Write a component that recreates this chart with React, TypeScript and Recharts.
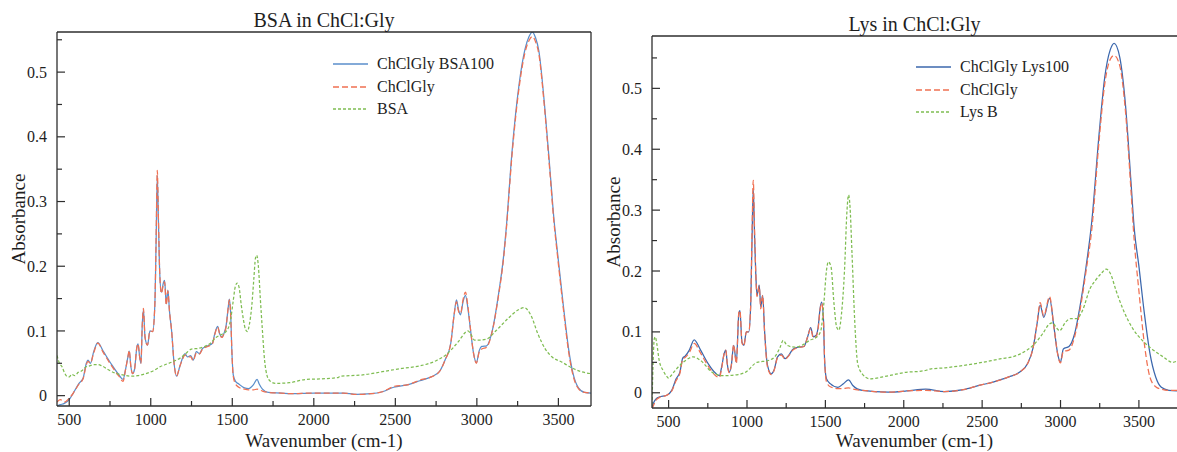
import React from 'react';
import { LineChart, Line, XAxis, YAxis, Legend, Label } from 'recharts';

const FONT = '"Liberation Serif", "Times New Roman", serif';
const AXIS = '#2e2e2e';
const TEXT = '#1e1e1e';

// ---------- shared ticks ----------
const xTicks = [500, 750, 1000, 1250, 1500, 1750, 2000, 2250, 2500, 2750, 3000, 3250, 3500];
const yTicks = [0, 0.05, 0.1, 0.15, 0.2, 0.25, 0.3, 0.35, 0.4, 0.45, 0.5, 0.55];

// ---------- BSA in ChCl:Gly ----------
const bsaWavenumbers = [
  425, 445, 470, 500, 525, 560, 585, 605, 615, 630,
  650, 675, 710, 760, 805, 830, 845, 860, 868, 878,
  888, 900, 915, 922, 932, 940, 948, 955, 965, 980,
  995, 1012, 1025, 1033, 1040, 1047, 1055, 1065, 1078, 1085,
  1095, 1105, 1115, 1128, 1143, 1158, 1178, 1198, 1210, 1225,
  1245, 1260, 1280, 1298, 1318, 1350, 1378, 1392, 1410, 1425,
  1437, 1450, 1462, 1475, 1482, 1490, 1498, 1506, 1520, 1540,
  1575, 1600, 1630, 1652, 1665, 1685, 1720, 1800, 1860, 2000,
  2100, 2180, 2260, 2350, 2420, 2490, 2580, 2650, 2720, 2770,
  2805, 2840, 2862, 2875, 2888, 2900, 2915, 2930, 2945, 2960,
  2980, 2997, 3015, 3030, 3060, 3095, 3130, 3165, 3180, 3215,
  3260, 3295, 3320, 3340, 3360, 3380, 3413, 3448, 3472, 3495,
  3530, 3565, 3590, 3623, 3660, 3700,
];
const bsaSampleAbs = [
  -0.016, -0.014, -0.012, -0.006, 0.004, 0.019, 0.027, 0.05, 0.055, 0.05,
  0.068, 0.082, 0.068, 0.048, 0.032, 0.025, 0.04, 0.06, 0.069, 0.045,
  0.034, 0.04, 0.075, 0.08, 0.06, 0.05, 0.11, 0.133, 0.09, 0.078,
  0.1, 0.099, 0.14, 0.24, 0.34, 0.27, 0.19, 0.16, 0.175, 0.178,
  0.142, 0.163, 0.13, 0.1, 0.05, 0.03, 0.045, 0.06, 0.065, 0.06,
  0.062, 0.055, 0.068, 0.065, 0.073, 0.077, 0.081, 0.095, 0.107, 0.094,
  0.091, 0.097, 0.108, 0.136, 0.149, 0.127, 0.065, 0.032, 0.022, 0.018,
  0.012, 0.011, 0.017, 0.025, 0.018, 0.01, 0.005, 0.004, 0.003, 0.004,
  0.004, 0.004, 0.002, 0.003, 0.006, 0.013, 0.017, 0.023, 0.029, 0.037,
  0.055, 0.081, 0.128, 0.148, 0.132, 0.125, 0.145, 0.155, 0.135, 0.104,
  0.065, 0.051, 0.07, 0.076, 0.077, 0.101, 0.152, 0.218, 0.258, 0.375,
  0.483, 0.535, 0.555, 0.562, 0.553, 0.533, 0.455, 0.35, 0.275, 0.22,
  0.14, 0.068, 0.034, 0.012, 0.005, 0.004,
];
const bsaSolventAbs = [
  -0.01, -0.006, -0.01, -0.004, 0.004, 0.018, 0.026, 0.048, 0.053, 0.05,
  0.066, 0.081, 0.066, 0.046, 0.03, 0.022, 0.04, 0.06, 0.07, 0.045,
  0.034, 0.04, 0.075, 0.08, 0.06, 0.05, 0.11, 0.135, 0.09, 0.078,
  0.1, 0.099, 0.14, 0.245, 0.348, 0.275, 0.19, 0.158, 0.172, 0.176,
  0.14, 0.162, 0.13, 0.1, 0.05, 0.03, 0.045, 0.058, 0.063, 0.06,
  0.06, 0.054, 0.066, 0.064, 0.072, 0.076, 0.08, 0.094, 0.106, 0.093,
  0.09, 0.096, 0.106, 0.136, 0.148, 0.125, 0.065, 0.03, 0.018, 0.013,
  0.01, 0.009, 0.009, 0.01, 0.009, 0.007, 0.005, 0.004, 0.003, 0.004,
  0.004, 0.004, 0.002, 0.003, 0.006, 0.014, 0.017, 0.024, 0.029, 0.037,
  0.055, 0.081, 0.128, 0.145, 0.13, 0.127, 0.148, 0.16, 0.138, 0.105,
  0.065, 0.05, 0.068, 0.072, 0.075, 0.1, 0.15, 0.215, 0.255, 0.37,
  0.478, 0.53, 0.549, 0.555, 0.547, 0.528, 0.45, 0.345, 0.27, 0.215,
  0.135, 0.064, 0.031, 0.011, 0.005, 0.004,
];
const bsaProteinWavenumbers = [
  425, 440, 455, 470, 485, 500, 515, 535, 555, 575,
  600, 625, 650, 675, 700, 740, 780, 830, 875, 920,
  970, 1020, 1060, 1100, 1140, 1180, 1210, 1250, 1290, 1330,
  1370, 1400, 1430, 1465, 1490, 1505, 1518, 1530, 1542, 1555,
  1568, 1580, 1592, 1605, 1620, 1632, 1642, 1650, 1660, 1672,
  1685, 1698, 1712, 1730, 1765, 1850, 1950, 2050, 2150, 2160,
  2300, 2420, 2540, 2650, 2750, 2820, 2885, 2945, 2965, 2985,
  3030, 3065, 3120, 3190, 3250, 3290, 3330, 3375, 3420, 3460,
  3520, 3590, 3640, 3700,
];
const bsaProteinAbs = [
  0.062, 0.05, 0.045, 0.036, 0.03, 0.029, 0.033, 0.031, 0.036, 0.038,
  0.044, 0.046, 0.048, 0.048, 0.046, 0.04, 0.035, 0.032, 0.03, 0.031,
  0.034, 0.039, 0.045, 0.049, 0.053, 0.058, 0.064, 0.072, 0.073, 0.076,
  0.082, 0.09, 0.094, 0.1, 0.118, 0.145, 0.168, 0.174, 0.167, 0.14,
  0.118, 0.103, 0.099, 0.11, 0.14, 0.18, 0.212, 0.217, 0.2, 0.15,
  0.1, 0.055, 0.032, 0.023, 0.019, 0.02, 0.025, 0.026, 0.028, 0.03,
  0.032, 0.037, 0.042, 0.046, 0.054, 0.065, 0.083, 0.1, 0.094, 0.086,
  0.086, 0.088, 0.101, 0.119, 0.132, 0.136, 0.125, 0.095, 0.072, 0.06,
  0.052, 0.042, 0.037, 0.034,
];

// ---------- Lys in ChCl:Gly ----------
const lysWavenumbers = [
  394, 405, 420, 440, 488, 520, 548, 572, 590, 605,
  632, 663, 704, 752, 800, 824, 838, 855, 865, 874,
  886, 900, 915, 932, 948, 955, 968, 980, 996, 1011,
  1023, 1032, 1040, 1048, 1056, 1064, 1078, 1088, 1100, 1112,
  1131, 1155, 1172, 1195, 1219, 1243, 1267, 1291, 1327, 1363,
  1387, 1406, 1423, 1440, 1454, 1466, 1476, 1488, 1495, 1507,
  1531, 1580, 1615, 1648, 1675, 1735, 1900, 2020, 2140, 2260,
  2380, 2480, 2575, 2670, 2740, 2790, 2826, 2850, 2870, 2893,
  2930, 2958, 2982, 2999, 3018, 3054, 3090, 3127, 3163, 3200,
  3246, 3282, 3318, 3342, 3378, 3414, 3450, 3470, 3499, 3535,
  3571, 3607, 3643, 3691, 3743,
];
const lysSampleAbs = [
  -0.026, -0.016, -0.01, -0.007, -0.004, 0.004, 0.023, 0.034, 0.057, 0.06,
  0.07, 0.087, 0.07, 0.048, 0.032, 0.028, 0.042, 0.065, 0.07, 0.048,
  0.034, 0.045, 0.078, 0.05, 0.13, 0.135, 0.083, 0.078, 0.1, 0.1,
  0.14, 0.25, 0.335, 0.26, 0.196, 0.16, 0.177, 0.141, 0.16, 0.102,
  0.045, 0.031, 0.037, 0.059, 0.064, 0.056, 0.062, 0.071, 0.075, 0.076,
  0.092, 0.107, 0.092, 0.094, 0.108, 0.138, 0.149, 0.119, 0.053, 0.023,
  0.015, 0.009, 0.015, 0.021, 0.012, 0.004, 0.001, 0.003, 0.006, 0.002,
  0.005, 0.012, 0.018, 0.026, 0.034, 0.048, 0.075, 0.113, 0.144, 0.124,
  0.155, 0.108, 0.064, 0.05, 0.072, 0.076, 0.097, 0.146, 0.207, 0.283,
  0.425, 0.518, 0.564, 0.574, 0.551, 0.474, 0.344, 0.27, 0.21, 0.13,
  0.064, 0.026, 0.009, 0.004, 0.003,
];
const lysSolventAbs = [
  -0.026, -0.02, -0.012, -0.008, -0.004, 0.003, 0.02, 0.032, 0.055, 0.058,
  0.066, 0.081, 0.065, 0.044, 0.028, 0.025, 0.04, 0.065, 0.07, 0.048,
  0.033, 0.045, 0.079, 0.048, 0.132, 0.135, 0.082, 0.077, 0.1, 0.1,
  0.14, 0.26, 0.349, 0.27, 0.196, 0.158, 0.175, 0.138, 0.16, 0.1,
  0.042, 0.03, 0.036, 0.058, 0.062, 0.055, 0.061, 0.07, 0.074, 0.076,
  0.092, 0.106, 0.09, 0.092, 0.106, 0.136, 0.147, 0.118, 0.055, 0.018,
  0.01, 0.007, 0.007, 0.008, 0.006, 0.004, 0.001, 0.003, 0.004, 0.002,
  0.005, 0.012, 0.018, 0.026, 0.034, 0.048, 0.075, 0.113, 0.148, 0.126,
  0.158, 0.108, 0.063, 0.049, 0.068, 0.07, 0.092, 0.14, 0.2, 0.27,
  0.414, 0.507, 0.548, 0.554, 0.537, 0.463, 0.33, 0.25, 0.17, 0.08,
  0.025, 0.01, 0.006, 0.004, 0.004,
];
const lysProteinWavenumbers = [
  394, 400, 408, 415, 425, 440, 464, 488, 500, 515,
  540, 560, 608, 656, 704, 776, 848, 944, 992, 1064,
  1136, 1183, 1210, 1231, 1255, 1303, 1351, 1399, 1447, 1471,
  1490, 1507, 1519, 1536, 1555, 1572, 1586, 1603, 1622, 1638,
  1648, 1656, 1670, 1687, 1706, 1735, 1783, 1903, 2023, 2095,
  2143, 2167, 2263, 2383, 2502, 2622, 2694, 2766, 2826, 2886,
  2929, 2950, 2970, 2994, 3032, 3068, 3104, 3140, 3188, 3224,
  3260, 3291, 3318, 3354, 3402, 3462, 3522, 3583, 3655, 3715,
  3743,
];
const lysProteinAbs = [
  -0.02, 0.04, 0.088, 0.092, 0.08, 0.053, 0.037, 0.027, 0.024, 0.028,
  0.036, 0.042, 0.053, 0.059, 0.053, 0.034, 0.028, 0.03, 0.034, 0.05,
  0.053, 0.061, 0.074, 0.086, 0.078, 0.075, 0.078, 0.086, 0.092, 0.102,
  0.146, 0.201, 0.215, 0.207, 0.146, 0.108, 0.103, 0.13, 0.201, 0.3,
  0.325, 0.31, 0.228, 0.119, 0.048, 0.031, 0.023, 0.028, 0.034, 0.035,
  0.037, 0.039, 0.041, 0.045, 0.05, 0.056, 0.059, 0.067, 0.078, 0.097,
  0.113, 0.115, 0.108, 0.102, 0.116, 0.122, 0.122, 0.135, 0.171, 0.185,
  0.196, 0.203, 0.196, 0.168, 0.135, 0.105, 0.086, 0.072, 0.059, 0.05,
  0.052,
];

type Series = { name: string; xs: number[]; ys: number[]; color: string; dash?: string };

const toPoints = (xs: number[], ys: number[]) => xs.map((w, i) => ({ w, a: ys[i] }));

const XTick = (props: any) => {
  const { x, y, payload } = props;
  const v = Math.round(payload.value);
  const major = v % 500 === 0;
  return (
    <g>
      <line x1={x} y1={y} x2={x} y2={y - (major ? 8 : 5)} stroke={AXIS} strokeWidth={1.2} />
      {major && (
        <text x={x} y={y + 19} textAnchor="middle" style={{ fontFamily: FONT }} fontSize={16} fill={TEXT}>
          {v}
        </text>
      )}
    </g>
  );
};

const YTick = (props: any) => {
  const { x, y, payload } = props;
  const v = payload.value as number;
  const major = Math.round(v * 100) % 10 === 0;
  return (
    <g>
      <line x1={x} y1={y} x2={x + (major ? 8 : 5)} y2={y} stroke={AXIS} strokeWidth={1.2} />
      {major && (
        <text x={x - 10} y={y} dy="0.35em" textAnchor="end" style={{ fontFamily: FONT }} fontSize={16} fill={TEXT}>
          {v === 0 ? '0' : v.toFixed(1)}
        </text>
      )}
    </g>
  );
};

const makeLegend = (series: Series[]) => () => (
  <div style={{ fontFamily: FONT, fontSize: 16, color: TEXT }}>
    {series.map((s) => (
      <div key={s.name} style={{ display: 'flex', alignItems: 'center', height: 22.5, whiteSpace: 'nowrap' }}>
        <svg width={35} height={8} style={{ display: 'block' }}>
          <line x1={0} y1={4} x2={35} y2={4} stroke={s.color} strokeWidth={1.3} strokeDasharray={s.dash} />
        </svg>
        <span style={{ marginLeft: 9 }}>{s.name}</span>
      </div>
    ))}
  </div>
);

type ChartProps = {
  title: string;
  series: Series[];
  width: number;
  margin: { top: number; right: number; bottom: number; left: number };
  bottomHeight: number;
  titleBaselineGap: number;
  xTitleOffset: number;
  xDomain: [number, number];
  yDomain: [number, number];
  legendLeft: number;
  legendTop: number;
  rightBorder: boolean;
};

const axisLine = { stroke: AXIS, strokeWidth: 1.3 };

function SpectrumChart(p: ChartProps) {
  return (
    <LineChart width={p.width} height={452} margin={p.margin}>
      <XAxis
        type="number"
        dataKey="w"
        domain={p.xDomain}
        allowDataOverflow
        ticks={xTicks}
        interval={0}
        tickSize={0}
        tickMargin={0}
        tickLine={false}
        tick={<XTick />}
        axisLine={axisLine}
        height={p.bottomHeight}
      >
        <Label
          value="Wavenumber (cm-1)"
          position="insideBottom"
          offset={p.xTitleOffset}
          style={{ fontFamily: FONT }}
          fontSize={19}
          fill={TEXT}
        />
      </XAxis>
      <XAxis
        xAxisId="top"
        orientation="top"
        type="number"
        domain={p.xDomain}
        allowDataOverflow
        height={1}
        tick={false}
        tickLine={false}
        axisLine={axisLine}
      >
        <Label
          value={p.title}
          position="top"
          offset={p.titleBaselineGap}
          style={{ fontFamily: FONT }}
          fontSize={20}
          fill={TEXT}
        />
      </XAxis>
      <YAxis
        type="number"
        domain={p.yDomain}
        allowDataOverflow
        ticks={yTicks}
        interval={0}
        tickSize={0}
        tickMargin={0}
        tickLine={false}
        tick={<YTick />}
        axisLine={axisLine}
        width={57}
      >
        <Label
          value="Absorbance"
          angle={-90}
          position="insideLeft"
          offset={18}
          fontSize={19}
          fill={TEXT}
          style={{ textAnchor: 'middle', fontFamily: FONT }}
        />
      </YAxis>
      {p.rightBorder && (
        <YAxis
          yAxisId="right"
          orientation="right"
          type="number"
          domain={p.yDomain}
          allowDataOverflow
          width={1}
          tick={false}
          tickLine={false}
          axisLine={axisLine}
        />
      )}
      {p.series.map((s) => (
        <Line
          key={s.name}
          data={toPoints(s.xs, s.ys)}
          dataKey="a"
          name={s.name}
          type="monotone"
          stroke={s.color}
          strokeWidth={1.25}
          strokeDasharray={s.dash}
          dot={false}
          activeDot={false}
          isAnimationActive={false}
        />
      ))}
      <Legend
        layout="vertical"
        align="center"
        verticalAlign="middle"
        content={makeLegend(p.series)}
        wrapperStyle={{ left: p.legendLeft, top: p.legendTop, width: 'auto', height: 'auto' }}
      />
    </LineChart>
  );
}

const RED = '#f07052';
const GREEN = '#7fbd52';

const bsaSeries: Series[] = [
  { name: 'ChClGly BSA100', xs: bsaWavenumbers, ys: bsaSampleAbs, color: '#5a8ecb' },
  { name: 'ChClGly', xs: bsaWavenumbers, ys: bsaSolventAbs, color: RED, dash: '6 3' },
  { name: 'BSA', xs: bsaProteinWavenumbers, ys: bsaProteinAbs, color: GREEN, dash: '3 2' },
];

const lysSeries: Series[] = [
  { name: 'ChClGly Lys100', xs: lysWavenumbers, ys: lysSampleAbs, color: '#3b67ad' },
  { name: 'ChClGly', xs: lysWavenumbers, ys: lysSolventAbs, color: RED, dash: '6 3' },
  { name: 'Lys B', xs: lysProteinWavenumbers, ys: lysProteinAbs, color: GREEN, dash: '3 2' },
];

export default function App() {
  return (
    <div
      style={{
        position: 'absolute',
        left: 0,
        top: 0,
        width: 1177,
        height: 452,
        overflow: 'hidden',
        background: '#ffffff',
      }}
    >
      <div style={{ position: 'absolute', left: 0, top: 0 }}>
        <SpectrumChart
          title="BSA in ChCl:Gly"
          series={bsaSeries}
          width={600}
          margin={{ top: 31, right: 8, bottom: 0, left: 0 }}
          bottomHeight={46}
          titleBaselineGap={4}
          xTitleOffset={5}
          xDomain={[425, 3700]}
          yDomain={[-0.016, 0.562]}
          legendLeft={333}
          legendTop={53}
          rightBorder
        />
      </div>
      <div style={{ position: 'absolute', left: 595, top: 0 }}>
        <SpectrumChart
          title="Lys in ChCl:Gly"
          series={lysSeries}
          width={582}
          margin={{ top: 35, right: 0, bottom: 0, left: 0 }}
          bottomHeight={44}
          titleBaselineGap={4}
          xTitleOffset={5}
          xDomain={[394, 3743]}
          yDomain={[-0.025, 0.586]}
          legendLeft={321}
          legendTop={56}
          rightBorder={false}
        />
      </div>
    </div>
  );
}
